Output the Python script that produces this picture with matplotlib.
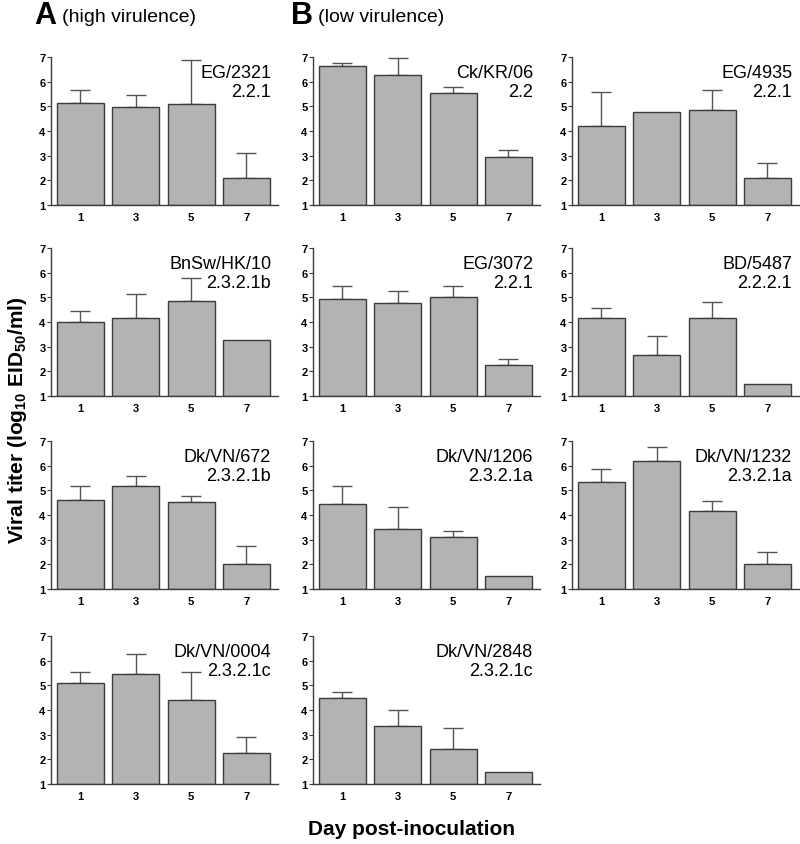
"""
Viral titers by day post-inoculation for H5N1 strains (grid of bar panels).
"""

import numpy as np
import matplotlib
matplotlib.use("Agg")
import matplotlib.pyplot as plt

plt.rcParams['font.family'] = ['Liberation Sans', 'DejaVu Sans']
plt.rcParams['mathtext.fontset'] = 'custom'
plt.rcParams['mathtext.rm'] = 'Liberation Sans'
plt.rcParams['mathtext.bf'] = 'Liberation Sans:bold'

days = ['1', '3', '5', '7']

# strain name, clade
strains = ['EG/2321', 'Ck/KR/06', 'EG/4935',
           'BnSw/HK/10', 'EG/3072', 'BD/5487',
           'Dk/VN/672', 'Dk/VN/1206', 'Dk/VN/1232',
           'Dk/VN/0004', 'Dk/VN/2848']
clades = ['2.2.1', '2.2', '2.2.1',
          '2.3.2.1b', '2.2.1', '2.2.2.1',
          '2.3.2.1b', '2.3.2.1a', '2.3.2.1a',
          '2.3.2.1c', '2.3.2.1c']

# mean titers (log10 EID50/ml)
means = [
    [5.12, 4.96, 5.11, 2.09],
    [6.62, 6.29, 5.53, 2.93],
    [4.19, 4.77, 4.85, 2.10],
    [4.00, 4.18, 4.85, 3.27],
    [4.93, 4.76, 5.01, 2.27],
    [4.18, 2.66, 4.18, 1.49],
    [4.60, 5.19, 4.52, 2.02],
    [4.44, 3.44, 3.09, 1.51],
    [5.34, 6.18, 4.18, 2.01],
    [5.11, 5.45, 4.41, 2.24],
    [4.50, 3.37, 2.42, 1.49],
]
# upper error (SD); 0 = no error bar drawn
errors = [
    [0.53, 0.49, 1.77, 1.01],
    [0.13, 0.65, 0.25, 0.29],
    [1.40, 0.00, 0.80, 0.62],
    [0.46, 0.97, 0.95, 0.00],
    [0.52, 0.50, 0.44, 0.24],
    [0.37, 0.78, 0.64, 0.00],
    [0.56, 0.38, 0.24, 0.71],
    [0.75, 0.88, 0.28, 0.00],
    [0.51, 0.57, 0.39, 0.50],
    [0.45, 0.82, 1.12, 0.67],
    [0.25, 0.65, 0.87, 0.00],
]

# panel grid slots (row, col) for each strain
slots = [(0, 0), (0, 1), (0, 2),
         (1, 0), (1, 1), (1, 2),
         (2, 0), (2, 1), (2, 2),
         (3, 0), (3, 1)]

W, H = 800, 845
fig = plt.figure(figsize=(W / 100, H / 100), dpi=100)

col_left = [51, 313, 572]
row_top = [58, 249, 442, 637]
ax_w, ax_h = 227, 148

bar_color = '#b3b3b3'
edge_color = '#3c3c3c'
x = np.arange(len(days))

for name, clade, m, e, (r, c) in zip(strains, clades, means, errors, slots):
    left = col_left[c] / W
    bottom = 1 - (row_top[r] + ax_h) / H
    ax = fig.add_axes([left, bottom, ax_w / W, ax_h / H])

    m = np.array(m)
    e = np.array(e)
    ax.bar(x, m - 1, bottom=1, width=0.85, color=bar_color,
           edgecolor=edge_color, linewidth=1.0, zorder=2)
    has_err = e > 0
    ax.errorbar(x[has_err], m[has_err],
                yerr=[np.zeros(has_err.sum()), e[has_err]],
                fmt='none', ecolor='#555555',
                elinewidth=1.0, capsize=7.5, capthick=1.0, zorder=1)

    ax.set_xlim(-0.53, 3.57)
    ax.set_ylim(1, 7)
    ax.set_yticks(range(1, 8))
    ax.set_xticks(x)
    ax.set_xticklabels(days)
    ax.tick_params(axis='y', length=3, width=0.8, pad=1, labelsize=8,
                   color=edge_color)
    ax.tick_params(axis='x', length=0, pad=5, labelsize=8)
    for lab in ax.get_xticklabels() + ax.get_yticklabels():
        lab.set_fontweight('bold')
    for side in ['top', 'right']:
        ax.spines[side].set_visible(False)
    for side in ['left', 'bottom']:
        ax.spines[side].set_linewidth(1.0)
        ax.spines[side].set_color(edge_color)

    ax.text(0.97, 0.95, f"{name}\n{clade}", transform=ax.transAxes,
            ha='right', va='top', fontsize=13, linespacing=1.1, zorder=3)

# panel headers
fig.text(34 / W, 1 - 16 / H, 'A', fontsize=22, fontweight='bold', va='center')
fig.text(62 / W, 1 - 17 / H, '(high virulence)', fontsize=14, va='center')
fig.text(291 / W, 1 - 16 / H, 'B', fontsize=22, fontweight='bold', va='center')
fig.text(318 / W, 1 - 17 / H, '(low virulence)', fontsize=14, va='center')

fig.text(18 / W, 1 - 420 / H, r'Viral titer (log$_\mathbf{10}$ EID$_\mathbf{50}$/ml)',
         rotation=90, ha='center', va='center', fontsize=15, fontweight='bold')
fig.text(412 / W, 1 - 830 / H, 'Day post-inoculation', ha='center',
         va='center', fontsize=15, fontweight='bold')

fig.savefig('out.png', dpi=100)
